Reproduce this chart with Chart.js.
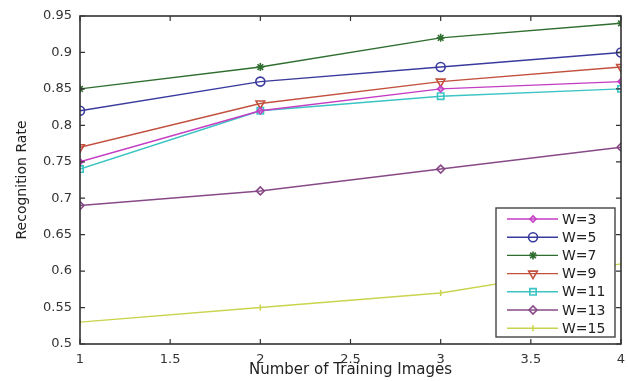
<!DOCTYPE html>
<html>
<head>
<meta charset="utf-8">
<style>
  html, body { margin: 0; padding: 0; background: #fff; }
  #wrap { width: 628px; height: 381px; }
</style>
<script src="https://cdn.jsdelivr.net/npm/chart.js@4/dist/chart.umd.min.js"></script>
</head>
<body>
<div id="wrap"><canvas id="chart" width="628" height="381"></canvas></div>
<script>
// training images on the x axis
const trainImages = [1, 2, 3, 4];
const xTicks = [1, 1.5, 2, 2.5, 3, 3.5, 4];
const yTicks = [0.5, 0.55, 0.6, 0.65, 0.7, 0.75, 0.8, 0.85, 0.9, 0.95];
const yTickLabels = ["0.5", "0.55", "0.6", "0.65", "0.7", "0.75", "0.8", "0.85", "0.9", "0.95"];

const seriesNames = ["W=3", "W=5", "W=7", "W=9", "W=11", "W=13", "W=15"];
const w3 = [0.75, 0.82, 0.85, 0.86];
const w5 = [0.82, 0.86, 0.88, 0.90];
const w7 = [0.85, 0.88, 0.92, 0.94];
const w9 = [0.77, 0.83, 0.86, 0.88];
const w11 = [0.74, 0.82, 0.84, 0.85];
const w13 = [0.69, 0.71, 0.74, 0.77];
const w15 = [0.53, 0.55, 0.57, 0.61];

(function () {
  const values = [w3, w5, w7, w9, w11, w13, w15];
  const colors = ["#c43cc4", "#3a3a9e", "#2f6e2f", "#c2503e", "#3cc4c4", "#874a87", "#c9d44e"];
  const markers = [
    { style: "rectRot", r: 3, rot: 0 },
    { style: "circle", r: 4.5, rot: 0 },
    { style: "star", r: 4, rot: 0 },
    { style: "triangle", r: 5, rot: 180 },
    { style: "rect", r: 4.5, rot: 0 },
    { style: "rectRot", r: 4, rot: 0 },
    { style: "line", r: 3, rot: 90 },
  ];
  const axisColor = "#333";
  const L = 80, R = 621, T = 16, B = 344;

  const datasets = values.map(function (v, i) {
    return {
      label: seriesNames[i],
      data: v.map(function (y, j) { return { x: trainImages[j], y: y }; }),
      borderColor: colors[i],
      backgroundColor: "rgba(0,0,0,0)",
      borderWidth: 1.4,
      pointStyle: markers[i].style,
      pointRadius: markers[i].r,
      pointRotation: markers[i].rot,
      pointBorderWidth: 1.6,
      pointBorderColor: colors[i],
      pointBackgroundColor: "rgba(0,0,0,0)",
      tension: 0,
    };
  });

  // box around the plot, inward ticks on all four sides, legend inside the plot
  const matlabFrame = {
    id: "matlabFrame",
    afterDraw: function (chart) {
      const ctx = chart.ctx;
      const a = chart.chartArea;
      const xs = chart.scales.x, ys = chart.scales.y;
      ctx.save();
      ctx.strokeStyle = axisColor;
      ctx.lineWidth = 1.6;
      ctx.strokeRect(a.left, a.top, a.right - a.left, a.bottom - a.top);
      ctx.lineWidth = 1.2;
      ctx.beginPath();
      xTicks.forEach(function (t) {
        const px = xs.getPixelForValue(t);
        ctx.moveTo(px, a.bottom); ctx.lineTo(px, a.bottom - 5);
        ctx.moveTo(px, a.top); ctx.lineTo(px, a.top + 5);
      });
      yTicks.forEach(function (t) {
        const py = ys.getPixelForValue(t);
        ctx.moveTo(a.left, py); ctx.lineTo(a.left + 5, py);
        ctx.moveTo(a.right, py); ctx.lineTo(a.right - 5, py);
      });
      ctx.stroke();

      // legend
      const bx = 496, by = 208, bw = 119, bh = 129;
      ctx.fillStyle = "#fff";
      ctx.fillRect(bx, by, bw, bh);
      ctx.strokeStyle = "#444";
      ctx.lineWidth = 1.4;
      ctx.strokeRect(bx, by, bw, bh);
      ctx.font = "14px 'DejaVu Sans'";
      ctx.textBaseline = "middle";
      ctx.textAlign = "left";
      seriesNames.forEach(function (name, i) {
        const cy = 219 + i * 18.2;
        ctx.strokeStyle = colors[i];
        ctx.lineWidth = 1.4;
        ctx.beginPath();
        ctx.moveTo(507, cy); ctx.lineTo(558, cy);
        ctx.stroke();
        if (Chart.helpers && Chart.helpers.drawPoint) {
          ctx.lineWidth = 1.6;
          ctx.fillStyle = "rgba(0,0,0,0)";
          Chart.helpers.drawPoint(ctx, {
            pointStyle: markers[i].style,
            radius: markers[i].r,
            rotation: markers[i].rot,
            borderWidth: 1.6,
          }, 533, cy);
        }
        ctx.fillStyle = "#222";
        ctx.fillText(name, 562, cy + 1);
      });
      ctx.restore();
    },
  };

  new Chart(document.getElementById("chart"), {
    type: "line",
    data: { datasets: datasets },
    options: {
      responsive: false,
      animation: false,
      layout: { padding: { top: T, right: 628 - R, left: 0, bottom: 0 } },
      plugins: { legend: { display: false }, tooltip: { enabled: false } },
      scales: {
        x: {
          type: "linear",
          min: 1,
          max: 4,
          afterBuildTicks: function (s) { s.ticks = xTicks.map(function (v) { return { value: v }; }); },
          afterFit: function (s) { s.height = 381 - B; },
          grid: { display: false },
          border: { display: false },
          ticks: {
            color: "#333",
            font: { family: "DejaVu Sans", size: 13 },
            padding: 0,
            maxRotation: 0,
            callback: function (v) { return String(v); },
          },
          title: {
            display: true,
            text: "Number of Training Images",
            color: "#222",
            font: { family: "DejaVu Sans", size: 15 },
            padding: { top: 0, bottom: 2 },
          },
        },
        y: {
          min: 0.5,
          max: 0.95,
          afterBuildTicks: function (s) { s.ticks = yTicks.map(function (v) { return { value: v }; }); },
          afterFit: function (s) { s.width = L; },
          grid: { display: false },
          border: { display: false },
          ticks: {
            color: "#333",
            font: { family: "DejaVu Sans", size: 13 },
            padding: 0,
            callback: function (v) {
              const i = yTicks.findIndex(function (t) { return Math.abs(t - v) < 1e-6; });
              return i >= 0 ? yTickLabels[i] : "";
            },
          },
          title: {
            display: true,
            text: "Recognition Rate",
            color: "#222",
            font: { family: "DejaVu Sans", size: 14 },
            padding: { top: 14, bottom: 0 },
          },
        },
      },
    },
    plugins: [matlabFrame],
  });
})();
</script>
</body>
</html>
